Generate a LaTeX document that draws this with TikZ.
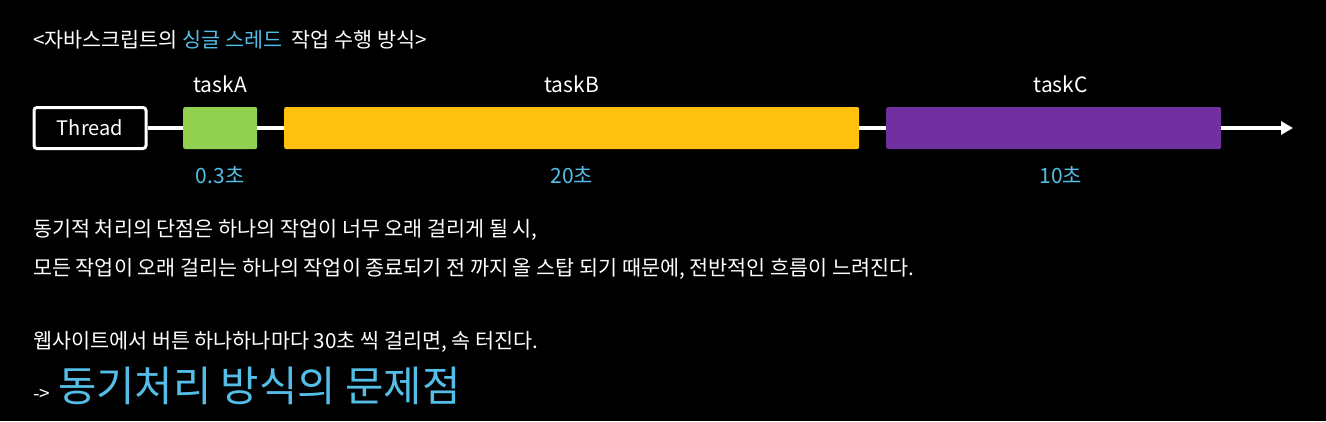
\documentclass[tikz,border=0pt]{standalone}
\usepackage{fontspec}
\setmainfont{Noto Sans CJK KR}
\usetikzlibrary{arrows.meta,positioning}
\definecolor{skyblue}{RGB}{84,190,232}
\definecolor{taskgreen}{RGB}{146,208,80}
\definecolor{taskyellow}{RGB}{255,193,14}
\definecolor{taskpurple}{RGB}{112,48,160}

\begin{document}
\begin{tikzpicture}[x=1pt,y=-1pt,>=Latex,
  txt/.style={anchor=base west,inner sep=0pt,text=white,font=\fontsize{20.7}{24}\selectfont},
  taskbox/.style={anchor=west,minimum height=42pt,inner sep=0pt,rounded corners=2pt},
  tasklabel/.style={anchor=base,inner sep=0pt,text=white,font=\fontsize{21}{25}\selectfont},
  timelabel/.style={anchor=base,inner sep=0pt,text=skyblue,font=\fontsize{21}{25}\selectfont},
  timeline/.style={draw=white,line width=4pt}]
\fill[black] (0,0) rectangle (1326,421);
\useasboundingbox (0,0) rectangle (1326,421);
% title
\node[txt] (title) at (33,47) {<자바스크립트의 \textcolor{skyblue}{싱글 스레드}\ \ 작업 수행 방식>};
% thread and tasks
\node[draw=white,line width=3pt,rounded corners=3pt,fill=black,minimum width=112pt,minimum height=41pt,inner sep=0pt,text=white,font=\fontsize{20}{24}\selectfont] (thread) at (90,128) {Thread};
\node[taskbox,fill=taskgreen,minimum width=74pt] (taskA) at (183,128) {};
\node[taskbox,fill=taskyellow,minimum width=575pt] (taskB) at (284,128) {};
\node[taskbox,fill=taskpurple,minimum width=335pt] (taskC) at (886,128) {};
\coordinate (tend) at (1293,128);
\draw[timeline] (thread.east) -- (taskA.west);
\draw[timeline] (taskA.east) -- (taskB.west);
\draw[timeline] (taskB.east) -- (taskC.west);
\draw[timeline,-{Triangle[length=12pt,width=13pt]}] (taskC.east) -- (tend);
% labels
\node[tasklabel] (labA) at ([yshift=14pt]taskA.north) {taskA};
\node[tasklabel] (labB) at ([yshift=14pt]taskB.north) {taskB};
\node[tasklabel] (labC) at ([xshift=7pt,yshift=14pt]taskC.north) {taskC};
\node[timelabel] (timeA) at ([yshift=-34pt]taskA.south) {0.3초};
\node[timelabel] (timeB) at ([yshift=-34pt]taskB.south) {20초};
\node[timelabel] (timeC) at ([xshift=7pt,yshift=-34pt]taskC.south) {10초};
% text
\node[txt] (line1) at (33,236) {동기적 처리의 단점은 하나의 작업이 너무 오래 걸리게 될 시,};
\node[txt] (line2) at (33,275) {모든 작업이 오래 걸리는 하나의 작업이 종료되기 전 까지 올 스탑 되기 때문에, 전반적인 흐름이 느려진다.};
\node[txt] (line3) at (33,348) {웹사이트에서 버튼 하나하나마다 30초 씩 걸리면, 속 터진다.};
\node[txt,font=\fontsize{19}{23}\selectfont] (arrow) at (33,400) {->};
\node[txt,text=skyblue,font=\fontsize{41.7}{48}\selectfont] (problem) at (58,401) {동기처리 방식의 문제점};
\end{tikzpicture}
\end{document}
